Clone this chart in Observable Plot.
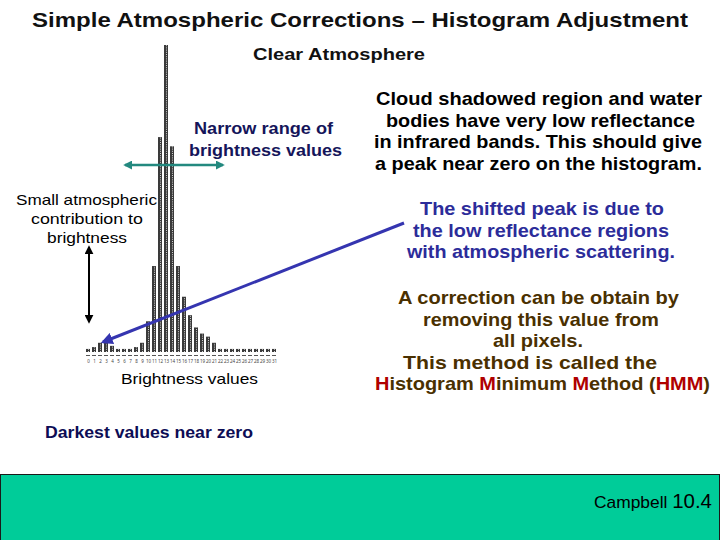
<!DOCTYPE html>
<html>
<head>
<meta charset="utf-8">
<script src="https://cdn.jsdelivr.net/npm/d3@7"></script>
<script src="https://cdn.jsdelivr.net/npm/@observablehq/plot@0.6"></script>
<style>
  html, body { margin: 0; padding: 0; background: #fff; }
  #page { position: relative; width: 720px; height: 540px; overflow: hidden; font-family: "Liberation Sans", Arial, sans-serif; }
  #hist { position: absolute; left: 80px; top: 40px; }
  #overlay { position: absolute; left: 0; top: 0; }
</style>
</head>
<body>
<div id="page">
  <div id="hist"></div>
  <svg id="overlay" width="720" height="540"></svg>
</div>
<script>
// Histogram data (brightness value bins and relative pixel counts)
const bins = d3.range(0, 32);
const counts = [1, 1.6, 3, 3.2, 2, 1, 1, 1, 1.6, 3, 10, 28, 70, 100, 67, 28, 18, 12, 8, 6, 5, 3,
                1, 1, 1, 1, 1, 1, 1, 1, 1, 1];
const binLabels = bins.map(String);

const data = bins.map((b, i) => ({bin: b, count: counts[i], label: binLabels[i]}));

const hist = Plot.plot({
  width: 202,
  height: 325,
  marginTop: 5,
  marginBottom: 13,
  marginLeft: 4,
  marginRight: 4,
  x: {type: "band", domain: bins, padding: 0.3, axis: null},
  y: {domain: [0, 100], axis: null},
  marks: [
    Plot.barY(data, {x: "bin", y: "count", fill: "#3a3a3a"}),
    Plot.ruleX(data, {x: "bin", y1: 0, y2: "count", stroke: "#d0d0d0", strokeWidth: 1, strokeDasharray: "1,1.2"}),
    Plot.tickY(data, {x: "bin", y: 0, dy: 3, stroke: "#555", strokeWidth: 1}),
    Plot.text(data, {x: "bin", y: 0, dy: 9, text: "label", fontSize: 4.5, fill: "#444"})
  ]
});
document.getElementById("hist").appendChild(hist);

// Annotations
const svg = d3.select("#overlay");
const defs = svg.append("defs");
function marker(id, color, size) {
  defs.append("marker").attr("id", id).attr("viewBox", "0 0 10 10")
    .attr("refX", 8).attr("refY", 5).attr("markerWidth", size).attr("markerHeight", size)
    .attr("orient", "auto-start-reverse").attr("markerUnits", "userSpaceOnUse")
    .append("path").attr("d", "M0,0 L10,5 L0,10 z").attr("fill", color);
}
marker("mTeal", "#23897f", 9);
marker("mBlack", "#000", 9);
marker("mBlue", "#3535b0", 12);

svg.append("line").attr("x1", 125).attr("y1", 165).attr("x2", 223).attr("y2", 165)
  .attr("stroke", "#23897f").attr("stroke-width", 2.5)
  .attr("marker-start", "url(#mTeal)").attr("marker-end", "url(#mTeal)");
svg.append("line").attr("x1", 89).attr("y1", 247).attr("x2", 89).attr("y2", 322)
  .attr("stroke", "#000").attr("stroke-width", 2)
  .attr("marker-start", "url(#mBlack)").attr("marker-end", "url(#mBlack)");
svg.append("line").attr("x1", 404).attr("y1", 223).attr("x2", 103).attr("y2", 342)
  .attr("stroke", "#3535b0").attr("stroke-width", 3)
  .attr("marker-end", "url(#mBlue)");

// each line: [content, left, width]
function lines(arr, y0, dy, opts) {
  arr.forEach((ln, i) => {
    const [t, left, w] = ln;
    const el = svg.append("text").attr("x", left).attr("y", y0 + i * dy)
      .attr("text-anchor", "start")
      .attr("textLength", w).attr("lengthAdjust", "spacingAndGlyphs")
      .attr("font-size", opts.size).attr("font-weight", opts.weight || "normal")
      .attr("fill", opts.color || "#000");
    if (Array.isArray(t)) {
      t.forEach(seg => el.append("tspan").attr("fill", seg[1] || opts.color).text(seg[0]));
    } else el.text(t);
  });
}

lines([["Simple Atmospheric Corrections – Histogram Adjustment", 32, 656]], 27, 0, {size: 21, weight: "bold", color: "#111"});
lines([["Clear Atmosphere", 253, 172]], 60, 0, {size: 17, weight: "bold", color: "#111"});
lines([["Narrow range of", 194, 139], ["brightness values", 189, 153]], 134, 22, {size: 16, weight: "bold", color: "#15155a"});
lines([["Small atmospheric", 16, 141], ["contribution to", 31, 112], ["brightness", 47, 80]], 205, 19, {size: 15, color: "#000"});
lines([["Brightness values", 121, 137]], 384, 0, {size: 15, color: "#000"});
lines([["Darkest values near zero", 45, 208]], 438, 0, {size: 16, weight: "bold", color: "#0d0d55"});
lines([["Cloud shadowed region and water", 376, 326], ["bodies have very low reflectance", 386, 309],
       ["in infrared bands. This should give", 374, 328], ["a peak near zero on the histogram.", 375, 327]],
      105, 21.5, {size: 18.5, weight: "bold", color: "#000"});
lines([["The shifted peak is due to", 420, 244], ["the low reflectance regions", 413, 256],
       ["with atmospheric scattering.", 407, 268]],
      215, 21.5, {size: 18.5, weight: "bold", color: "#2c2c9a"});
const red = "#b00000";
lines([["A correction can be obtain by", 398, 281], ["removing this value from", 423, 236], ["all pixels.", 493, 90],
       ["This method is called the", 403, 254],
       [[["H", red], ["istogram "], ["M", red], ["inimum "], ["M", red], ["ethod ("], ["HMM", red], [")"]], 375, 335]],
      304, 21.5, {size: 18.5, weight: "bold", color: "#4a3000"});

// Footer band
svg.append("rect").attr("x", 0.5).attr("y", 474.5).attr("width", 719).attr("height", 66)
  .attr("fill", "#00cc99").attr("stroke", "#1a1a1a").attr("stroke-width", 1);
const foot = svg.append("text").attr("x", 594).attr("y", 508).attr("fill", "#000")
  .attr("textLength", 118).attr("lengthAdjust", "spacingAndGlyphs");
foot.append("tspan").attr("font-size", 17).text("Campbell ");
foot.append("tspan").attr("font-size", 20).text("10.4");
</script>
</body>
</html>
